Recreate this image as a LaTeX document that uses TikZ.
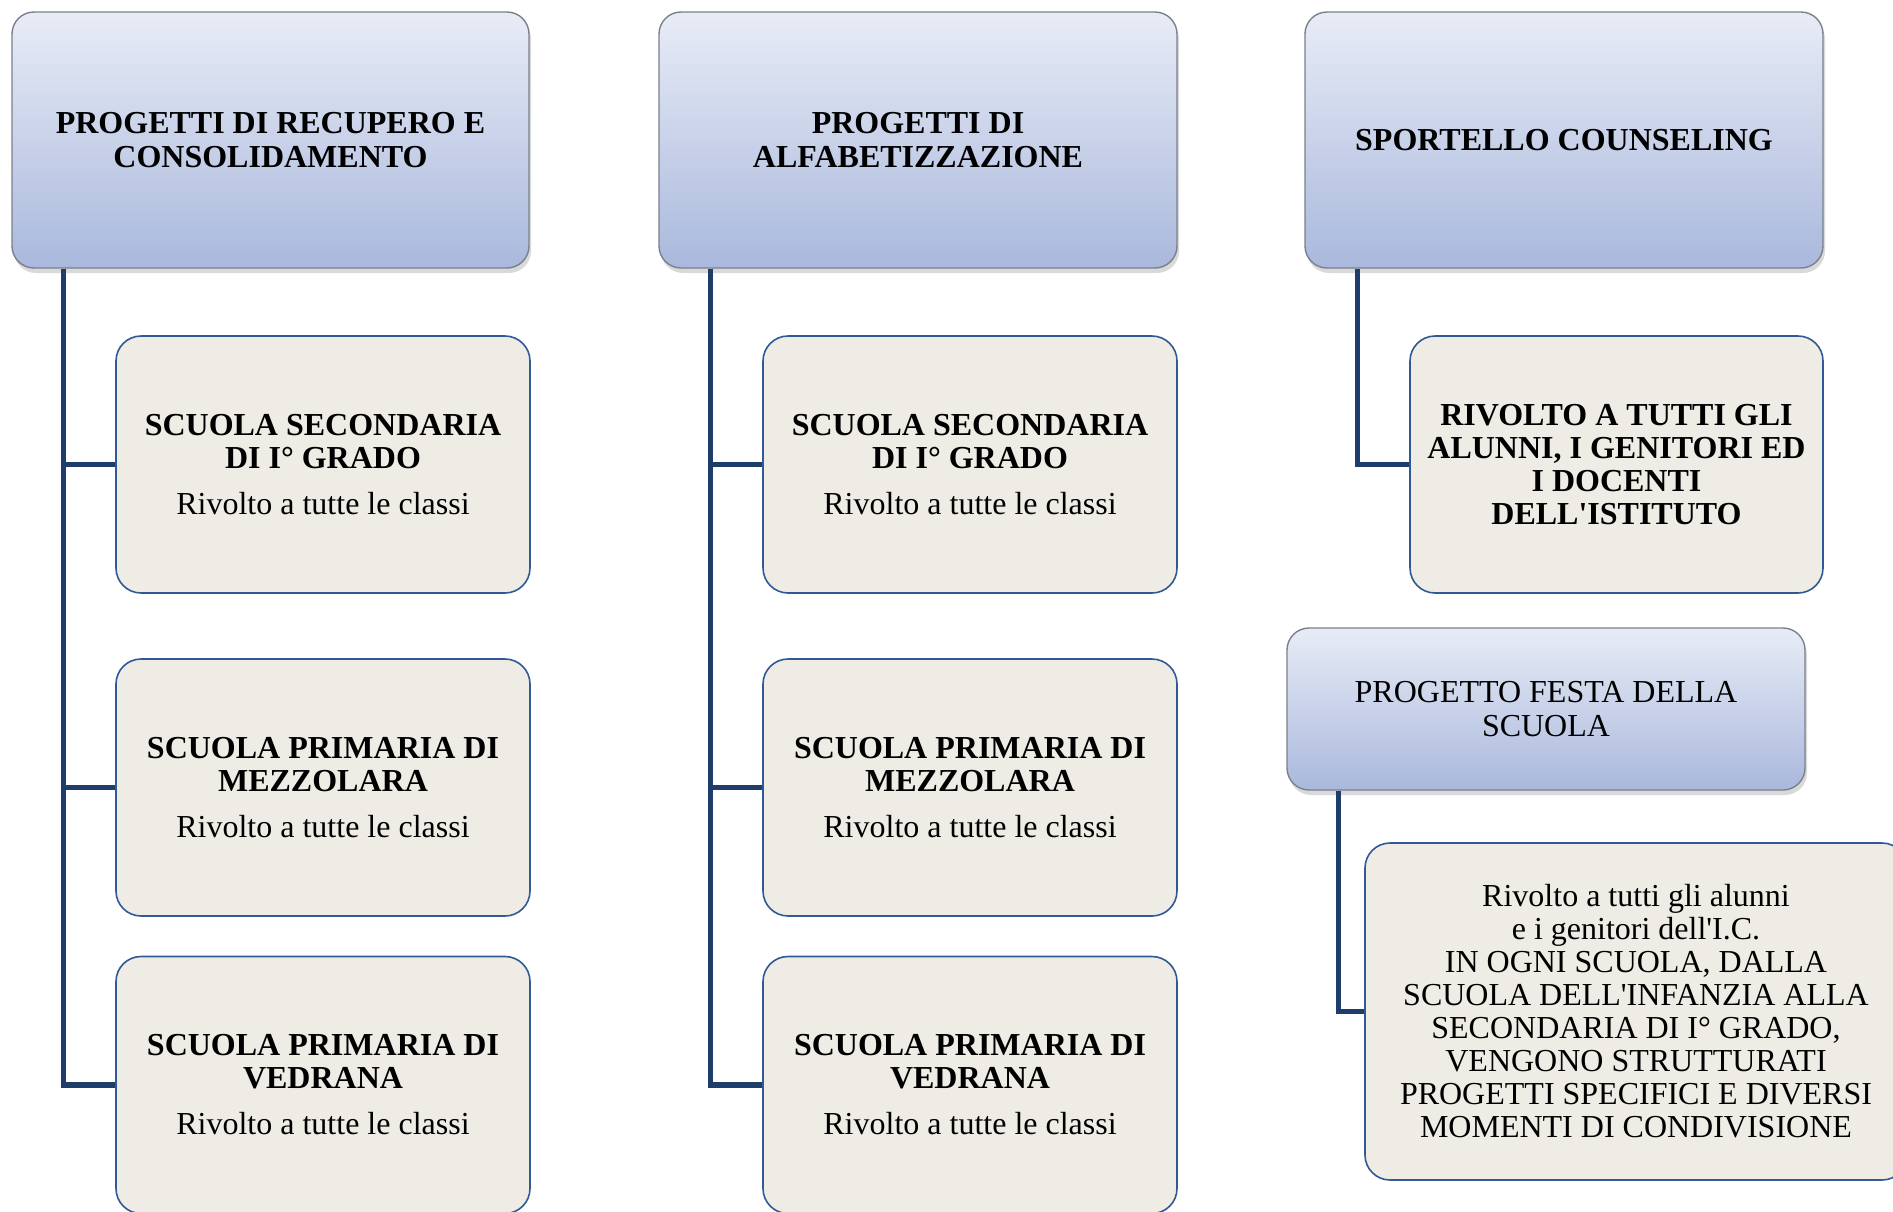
\documentclass[tikz,border=0pt]{standalone}
\usepackage{fontspec}
\setmainfont{Liberation Serif}
\usetikzlibrary{shadows}
\definecolor{topA}{HTML}{E8ECF6}
\definecolor{topB}{HTML}{A9B8DC}
\definecolor{childfill}{HTML}{EEECE5}
\definecolor{childdraw}{HTML}{2F5A95}
\definecolor{conncol}{HTML}{1F3D6B}
\definecolor{headdraw}{HTML}{7A808C}
\begin{document}
\begin{tikzpicture}[x=1pt,y=-1pt,
  headbox/.style={rounded corners=22pt, draw=headdraw, line width=1.4pt,
    top color=topA, bottom color=topB,
    drop shadow={shadow xshift=2pt, shadow yshift=-5pt, opacity=0.25, fill=black!60},
    align=center, inner sep=0pt, font=\fontsize{32}{34}\selectfont},
  childbox/.style={rounded corners=25pt, draw=childdraw, line width=1.6pt,
    fill=childfill, align=center, inner sep=0pt, font=\fontsize{32}{33}\selectfont},
  conn/.style={draw=conncol, line width=5.5pt}]
\useasboundingbox (0,0) rectangle (1893,1211);
\clip (0,0) rectangle (1893,1211);

% column 1
\node[headbox, minimum width=517pt, minimum height=256pt] (T1) at (270.5,140)
  {\bfseries PROGETTI DI RECUPERO E\\\bfseries CONSOLIDAMENTO};
\node[childbox, minimum width=414pt, minimum height=257pt] (A1) at (323,464.5)
  {\bfseries SCUOLA SECONDARIA\\\bfseries DI I° GRADO\\[13pt]\normalfont Rivolto a tutte le classi};
\node[childbox, minimum width=414pt, minimum height=257pt] (A2) at (323,787.5)
  {\bfseries SCUOLA PRIMARIA DI\\\bfseries MEZZOLARA\\[13pt]\normalfont Rivolto a tutte le classi};
\node[childbox, minimum width=414pt, minimum height=257pt] (A3) at (323,1085)
  {\bfseries SCUOLA PRIMARIA DI\\\bfseries VEDRANA\\[13pt]\normalfont Rivolto a tutte le classi};

% column 2
\node[headbox, minimum width=518pt, minimum height=256pt] (T2) at (918,140)
  {\bfseries PROGETTI DI\\\bfseries ALFABETIZZAZIONE};
\node[childbox, minimum width=414pt, minimum height=257pt] (B1) at (970,464.5)
  {\bfseries SCUOLA SECONDARIA\\\bfseries DI I° GRADO\\[13pt]\normalfont Rivolto a tutte le classi};
\node[childbox, minimum width=414pt, minimum height=257pt] (B2) at (970,787.5)
  {\bfseries SCUOLA PRIMARIA DI\\\bfseries MEZZOLARA\\[13pt]\normalfont Rivolto a tutte le classi};
\node[childbox, minimum width=414pt, minimum height=257pt] (B3) at (970,1085)
  {\bfseries SCUOLA PRIMARIA DI\\\bfseries VEDRANA\\[13pt]\normalfont Rivolto a tutte le classi};

% column 3
\node[headbox, minimum width=518pt, minimum height=256pt] (T3) at (1564,140)
  {\bfseries SPORTELLO COUNSELING};
\node[childbox, minimum width=413pt, minimum height=257pt] (C1) at (1616.5,464.5)
  {\bfseries RIVOLTO A TUTTI GLI\\\bfseries ALUNNI, I GENITORI ED\\\bfseries I DOCENTI\\\bfseries DELL\textquotesingle ISTITUTO};

\node[headbox, minimum width=518pt, minimum height=162pt] (F) at (1546,709)
  {PROGETTO FESTA DELLA\\SCUOLA};
\node[childbox, minimum width=542pt, minimum height=337pt] (F1) at (1636,1011.5)
  {Rivolto a tutti gli alunni\\e i genitori dell\textquotesingle I.C.\\IN OGNI SCUOLA, DALLA\\SCUOLA DELL\textquotesingle INFANZIA ALLA\\SECONDARIA DI I° GRADO,\\VENGONO STRUTTURATI\\PROGETTI SPECIFICI E DIVERSI\\MOMENTI DI CONDIVISIONE};

% connectors
\draw[conn] ([xshift=52pt]T1.south west) |- (A1.west);
\draw[conn] ([xshift=52pt]T1.south west) |- (A2.west);
\draw[conn] ([xshift=52pt]T1.south west) |- (A3.west);
\draw[conn] ([xshift=52pt]T2.south west) |- (B1.west);
\draw[conn] ([xshift=52pt]T2.south west) |- (B2.west);
\draw[conn] ([xshift=52pt]T2.south west) |- (B3.west);
\draw[conn] ([xshift=53pt]T3.south west) |- (C1.west);
\draw[conn] ([xshift=52pt]F.south west) |- (F1.west);
\end{tikzpicture}
\end{document}
